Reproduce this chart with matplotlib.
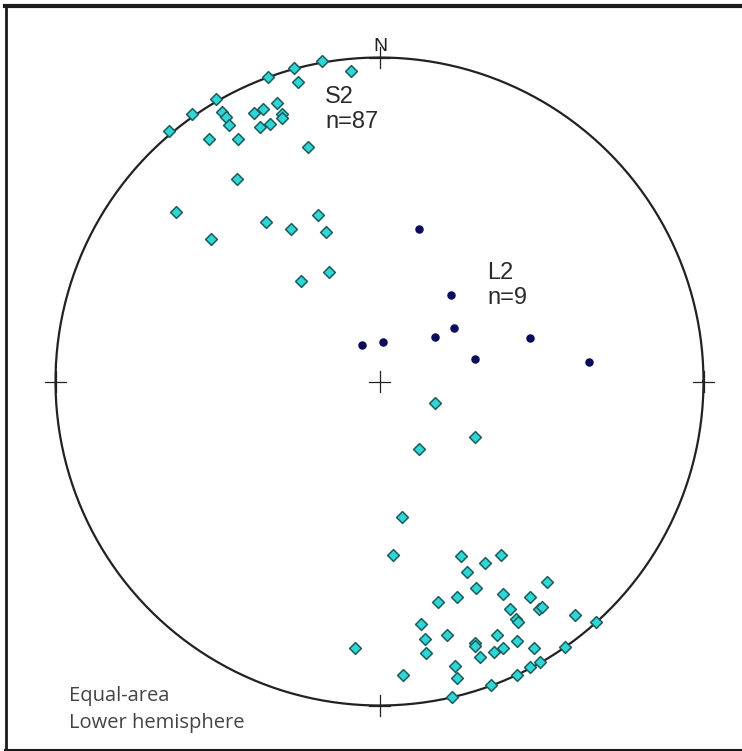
import matplotlib
matplotlib.use("Agg")
import matplotlib.pyplot as plt
from matplotlib.lines import Line2D
import numpy as np

# S2 poles, projected (east, north) on the unit equal-area net
s2_x = [-0.650, -0.579, -0.505, -0.486, -0.474, -0.465, -0.526, -0.437, -0.387, -0.360,
        -0.316, -0.301, -0.301, -0.369, -0.338, -0.344, -0.264, -0.252, -0.177, -0.088,
        -0.221, -0.440, -0.628, -0.520, -0.350, -0.273, -0.190, -0.165, -0.156, -0.242,
        0.171, 0.295, 0.122, 0.069, 0.042, 0.252, 0.375, 0.326, 0.270,
        0.517, 0.298, 0.381, 0.465, 0.239, 0.181, 0.492, 0.502, 0.403, 0.421,
        0.427, 0.603, 0.668, 0.128, 0.140, 0.208, 0.363, 0.424, -0.076, 0.144,
        0.295, 0.295, 0.381, 0.353, 0.477, 0.573, 0.310, 0.073, 0.233, 0.239,
        0.495, 0.465, 0.424, 0.344, 0.224]
s2_y = [0.773, 0.826, 0.872, 0.832, 0.816, 0.792, 0.748, 0.748, 0.829, 0.841,
        0.860, 0.826, 0.813, 0.785, 0.795, 0.940, 0.968, 0.925, 0.989, 0.958,
        0.724, 0.625, 0.523, 0.440, 0.492, 0.471, 0.514, 0.461, 0.338, 0.310,
        -0.066, -0.171, -0.208, -0.418, -0.536, -0.539, -0.536, -0.560, -0.588,
        -0.619, -0.637, -0.656, -0.665, -0.665, -0.681, -0.702, -0.696, -0.702, -0.733,
        -0.742, -0.721, -0.742, -0.748, -0.795, -0.782, -0.782, -0.801, -0.823, -0.838,
        -0.807, -0.816, -0.823, -0.835, -0.823, -0.819, -0.850, -0.906, -0.878, -0.915,
        -0.866, -0.881, -0.906, -0.937, -0.974]

# L2 lineations
l2_x = [0.122, 0.221, 0.230, 0.171, 0.011, -0.054, 0.295, 0.465, 0.647]
l2_y = [0.471, 0.267, 0.165, 0.138, 0.122, 0.113, 0.069, 0.133, 0.060]

W, H = 742, 751
cx, cy, R = 379.5, 381.5, 324.0
lim = 1.1

fig = plt.figure(figsize=(W / 100, H / 100), dpi=100)
ax = fig.add_axes([(cx - lim * R) / W, (H - cy - lim * R) / H, 2 * lim * R / W, 2 * lim * R / H])
ax.set_xlim(-lim, lim)
ax.set_ylim(-lim, lim)
ax.axis("off")

t = np.linspace(0, 2 * np.pi, 400)
ax.plot(np.cos(t), np.sin(t), color="#222222", lw=1.6, zorder=1)

tk = 0.031
for px, py in [(0, 0), (1, 0), (-1, 0), (0, 1), (0, -1)]:
    ax.plot([px - tk, px + tk], [py, py], color="#222222", lw=0.9, zorder=1)
    ax.plot([px, px], [py - tk, py + tk], color="#222222", lw=0.9, zorder=1)
ax.text(0.003, 1.008, "N", ha="center", va="bottom", fontsize=14,
        family="Liberation Sans", color="#222222")

ax.scatter(s2_x, s2_y, marker="D", s=36, facecolor="#2fd6d6", edgecolor="#1d5c5c",
           linewidths=1.1, zorder=3)
ax.scatter(l2_x, l2_y, marker="o", s=26, color="#0b0b5a", zorder=3)

ax.text((325 - cx) / R, (cy - 86) / R, "S2\nn=87", ha="left", va="top", fontsize=17,
        family="Liberation Sans", color="#2a2a2a", linespacing=1.2)
ax.text((487 - cx) / R, (cy - 262) / R, "L2\nn=9", ha="left", va="top", fontsize=17,
        family="Liberation Sans", color="#2a2a2a", linespacing=1.2)

fig.text(69 / W, 1 - 686 / H, "Equal-area\nLower hemisphere", ha="left", va="top",
         fontsize=14.5, family="Open Sans", color="#444444", linespacing=1.45)

# frame of the screenshot
fig.add_artist(Line2D([5 / W, 1], [1 - 5.5 / H, 1 - 5.5 / H], color="#1a1a1a", lw=3))
fig.add_artist(Line2D([6 / W, 6 / W], [0, 1 - 5 / H], color="#1a1a1a", lw=2.0))
fig.add_artist(Line2D([5 / W, 1], [1.5 / H, 1.5 / H], color="#1a1a1a", lw=1.5))

fig.savefig("out.png", dpi=100)
